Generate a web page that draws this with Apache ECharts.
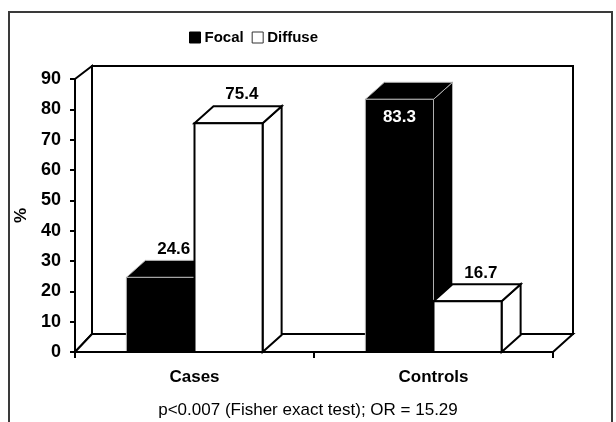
<!DOCTYPE html>
<html>
<head>
<meta charset="utf-8">
<script src="https://cdn.jsdelivr.net/npm/echarts@6/dist/echarts.min.js"></script>
<style>html,body{margin:0;padding:0;background:#fff;}#c{width:616px;height:422px;}</style>
</head>
<body>
<div id="c"></div>
<script>
// ---- data ----
const categories = ['Cases', 'Controls'];
const focalValues = [24.6, 83.3];
const diffuseValues = [75.4, 16.7];
const seriesNames = ['Focal', 'Diffuse'];
const yMin = 0, yMax = 90, yStep = 10;
const yAxisTitle = '%';
const footnote = 'p<0.007 (Fisher exact test); OR = 15.29';

// ---- style constants ----
const FONT = '"Liberation Sans", Arial, sans-serif';
const BAR_FRAC = 0.285;      // bar width as a fraction of category width
const BDX = 19, BDY = 17;    // bar depth offset
const WDX = 17;              // wall depth offset (x)
const WTOP = 13, WBOT = 18;  // wall depth offset (y) at top / bottom

const chart = echarts.init(document.getElementById('c'), null, {renderer: 'canvas'});

function wallsRender(params, api) {
  const cs = params.coordSys;
  const x0 = cs.x, x1 = cs.x + cs.width, yT = cs.y, yB = cs.y + cs.height;
  const lw = {stroke: '#000', lineWidth: 2, fill: '#fff'};
  return {
    type: 'group',
    children: [
      {type: 'polygon', shape: {points: [[x0 + WDX, yT - WTOP], [x1 + WDX + 3, yT - WTOP], [x1 + WDX + 3, yB - WBOT], [x0 + WDX, yB - WBOT]]}, style: lw},
      {type: 'polygon', shape: {points: [[x0, yT], [x0 + WDX, yT - WTOP], [x0 + WDX, yB - WBOT], [x0, yB]]}, style: lw},
      {type: 'polygon', shape: {points: [[x0, yB], [x1, yB], [x1 + WDX + 3, yB - WBOT], [x0 + WDX, yB - WBOT]]}, style: lw}
    ]
  };
}

function barRender(isFocal) {
  return function (params, api) {
    const ci = api.value(0), v = api.value(1);
    const base = api.coord([ci, 0]);
    const top = api.coord([ci, v]);
    const catW = api.size([1, 0])[0];
    const bw = catW * BAR_FRAC;
    const x0 = base[0] + (isFocal ? -bw : 0);
    const x1 = x0 + bw;
    const ty = top[1], by = base[1];
    const st = isFocal
      ? {fill: '#000', stroke: '#b0b0b0', lineWidth: 1}
      : {fill: '#fff', stroke: '#000', lineWidth: 2};
    const cs = params.coordSys;
    const wallTop = cs.y - WTOP;
    const labelAbove = (ty - BDY - 8 - 17) > wallTop;
    const label = labelAbove
      ? {type: 'text', style: {text: String(v), x: x0 + bw / 2 + BDX * 0.7, y: ty - BDY - 3, align: 'center', verticalAlign: 'bottom', font: 'bold 17px ' + FONT, fill: '#000'}}
      : {type: 'text', style: {text: String(v), x: x0 + bw / 2, y: ty + 18, align: 'center', verticalAlign: 'middle', font: 'bold 17px ' + FONT, fill: '#fff'}};
    return {
      type: 'group',
      children: [
        {type: 'polygon', shape: {points: [[x1, ty], [x1 + BDX, ty - BDY], [x1 + BDX, by - BDY], [x1, by]]}, style: st},
        {type: 'polygon', shape: {points: [[x0, ty], [x1, ty], [x1 + BDX, ty - BDY], [x0 + BDX, ty - BDY]]}, style: st},
        {type: 'rect', shape: {x: x0, y: ty, width: bw, height: by - ty}, style: st},
        label
      ]
    };
  };
}

const option = {
  animation: false,
  backgroundColor: '#fff',
  textStyle: {fontFamily: FONT},
  graphic: [
    {type: 'rect', shape: {x: 9, y: 12, width: 603, height: 430}, style: {fill: 'none', stroke: '#3a3a3a', lineWidth: 2}, z: 100}
  ],
  title: {
    text: footnote,
    left: 303, top: 397, textAlign: 'center',
    textStyle: {fontFamily: FONT, fontSize: 17, fontWeight: 'normal', color: '#000'}
  },
  legend: {
    left: 184, top: 25,
    itemWidth: 11, itemHeight: 11, itemGap: 8,
    icon: 'rect',
    textStyle: {fontFamily: FONT, fontSize: 15, fontWeight: 'bold', color: '#000', padding: [0, 0, 0, -1]},
    data: [
      {name: seriesNames[0], itemStyle: {color: '#000', borderColor: '#000', borderWidth: 1}},
      {name: seriesNames[1], itemStyle: {color: '#fff', borderColor: '#333', borderWidth: 1}}
    ]
  },
  grid: {left: 75, right: 63, top: 79, bottom: 70, containLabel: false},
  xAxis: {
    type: 'category',
    data: categories,
    z: 10,
    axisLine: {show: true, lineStyle: {color: '#000', width: 2}},
    axisTick: {show: true, alignWithLabel: false, length: 6, lineStyle: {color: '#000', width: 2}},
    axisLabel: {margin: 17, fontFamily: FONT, fontSize: 17, fontWeight: 'bold', color: '#000'},
    splitLine: {show: false}
  },
  yAxis: {
    type: 'value',
    min: yMin, max: yMax, interval: yStep,
    z: 10,
    name: yAxisTitle,
    nameLocation: 'middle',
    nameRotate: 90,
    nameGap: 42,
    nameTextStyle: {fontFamily: FONT, fontSize: 17, fontWeight: 'bold', color: '#000'},
    axisLine: {show: true, lineStyle: {color: '#000', width: 2}},
    axisTick: {show: true, length: 5, lineStyle: {color: '#000', width: 2}},
    axisLabel: {margin: 14, fontFamily: FONT, fontSize: 18, fontWeight: 'bold', color: '#000'},
    splitLine: {show: false}
  },
  series: [
    {type: 'custom', name: '_walls', silent: true, z: 1, renderItem: wallsRender, data: [[0, 0]]},
    {type: 'custom', name: seriesNames[0], z: 2, itemStyle: {color: '#000'}, renderItem: barRender(true),
      data: focalValues.map((v, i) => [i, v])},
    {type: 'custom', name: seriesNames[1], z: 3, itemStyle: {color: '#fff', borderColor: '#333'}, renderItem: barRender(false),
      data: diffuseValues.map((v, i) => [i, v])}
  ]
};
chart.setOption(option);
</script>
</body>
</html>
